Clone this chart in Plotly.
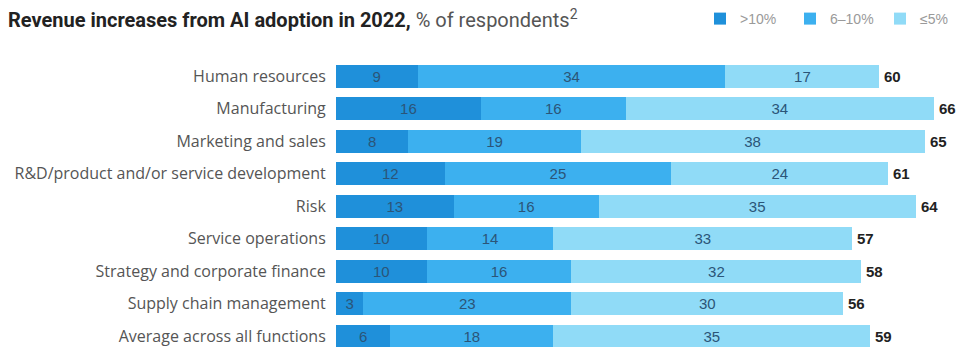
import plotly.graph_objects as go

categories = [
    "Human resources",
    "Manufacturing",
    "Marketing and sales",
    "R&D/product and/or service development",
    "Risk",
    "Service operations",
    "Strategy and corporate finance",
    "Supply chain management",
    "Average across all functions",
]
over_10 = [9, 16, 8, 12, 13, 10, 10, 3, 6]
from_6_to_10 = [34, 16, 19, 25, 16, 14, 16, 23, 18]
up_to_5 = [17, 34, 38, 24, 35, 33, 32, 30, 35]
totals = [60, 66, 65, 61, 64, 57, 58, 56, 59]
series_names = [">10%", "6–10%", "≤5%"]
colors = ["#1f90da", "#3cb0ef", "#90dbf7"]

fig = go.Figure()
for name, vals, col in zip(series_names, [over_10, from_6_to_10, up_to_5], colors):
    fig.add_trace(go.Bar(
        y=categories, x=vals, name=name, orientation="h",
        marker=dict(color=col, line=dict(width=0)),
        text=vals, textposition="inside", insidetextanchor="middle",
        textfont=dict(family="Liberation Sans", size=15, color="#2b5578"),
        hoverinfo="skip",
    ))

for cat, tot in zip(categories, totals):
    fig.add_annotation(
        x=tot, y=cat, xref="x", yref="y", text=f"<b>{tot}</b>",
        showarrow=False, xanchor="left", xshift=3,
        font=dict(family="Liberation Sans", size=15, color="#222222"),
    )

fig.update_layout(
    width=971, height=347,
    barmode="stack", bargap=0.29,
    margin=dict(l=336, r=1, t=60, b=0),
    paper_bgcolor="white", plot_bgcolor="white",
    uniformtext=dict(minsize=8, mode="show"),
    title=dict(
        text="<b>Revenue increases from AI adoption in 2022,</b> <span style='color:#555555'>% of respondents<sup>2</sup></span>",
        x=8 / 971, xanchor="left", xref="container",
        y=1 - 20 / 347, yanchor="middle", yref="container",
        font=dict(family="Roboto", size=20, color="#222222"),
    ),
    legend=dict(
        orientation="h", x=700 / 971, xanchor="left", xref="container",
        y=1 - 19 / 347, yanchor="middle", yref="container",
        entrywidth=45, entrywidthmode="pixels",
        font=dict(family="Liberation Sans", size=14, color="#9a9a9a"),
        traceorder="normal", itemclick=False, itemdoubleclick=False,
    ),
    xaxis=dict(range=[0, 70], visible=False, showgrid=False, zeroline=False),
    yaxis=dict(
        range=[8.33, -0.5], showgrid=False, zeroline=False,
        ticks="outside", ticklen=6, tickcolor="white",
        tickfont=dict(family="Open Sans", size=16, color="#555555"),
    ),
)

fig.write_html("out.html")
